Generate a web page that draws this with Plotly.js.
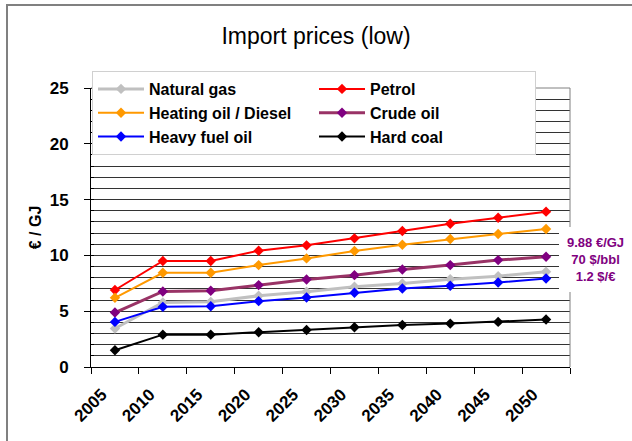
<!DOCTYPE html>
<html>
<head>
<meta charset="utf-8">
<script src="https://cdn.plot.ly/plotly-3.0.1.min.js"></script>
<style>
  html, body { margin: 0; padding: 0; background: #ffffff; }
  #wrap { position: relative; width: 632px; height: 441px; overflow: hidden; }
  #frame { position: absolute; left: 6px; top: 4px; width: 700px; height: 500px;
           border-left: 2px solid #808080; border-top: 2px solid #808080; box-sizing: border-box; }
  #chart { position: absolute; left: 0; top: 0; width: 632px; height: 441px; }
</style>
</head>
<body>
<div id="wrap">
  <div id="frame"></div>
  <div id="chart"></div>
</div>
<script>
// ---- data ----
const years = ["2005", "2010", "2015", "2020", "2025", "2030", "2035", "2040", "2045", "2050"];
const naturalGas   = [3.45, 5.78, 5.84, 6.38, 6.74, 7.19, 7.49, 7.87, 8.14, 8.53];
const petrol       = [6.9, 9.5, 9.5, 10.42, 10.9, 11.53, 12.19, 12.84, 13.38, 13.92];
const heatingOil   = [6.2, 8.44, 8.44, 9.13, 9.73, 10.39, 10.96, 11.47, 11.92, 12.37];
const crudeOil     = [4.88, 6.77, 6.83, 7.34, 7.84, 8.23, 8.74, 9.13, 9.58, 9.88];
const heavyFuelOil = [4.04, 5.39, 5.45, 5.9, 6.23, 6.65, 7.04, 7.28, 7.57, 7.93];
const hardCoal     = [1.5, 2.9, 2.9, 3.11, 3.32, 3.56, 3.77, 3.89, 4.04, 4.25];
const seriesNames  = ["Natural gas", "Petrol", "Heating oil / Diesel", "Crude oil", "Heavy fuel oil", "Hard coal"];
const yTicks = [0, 5, 10, 15, 20, 25];
const noteLines = ["9.88 €/GJ", "70 $/bbl", "1.2 $/€"];
const titleText = "Import prices (low)";
const yTitleText = "€ / GJ";

const FONT = "Arial, 'Liberation Sans', sans-serif";

function tr(name, y, lineColor, markerColor, width) {
  return {
    type: "scatter", mode: "lines+markers", name: name, x: years, y: y,
    line: { color: lineColor, width: width },
    marker: { symbol: "diamond", size: 8, color: markerColor, line: { width: 0 } },
    hoverinfo: "skip"
  };
}

const data = [
  tr(seriesNames[0], naturalGas, "#C0C0C0", "#C0C0C0", 3),
  tr(seriesNames[1], petrol, "#FF0000", "#FF0000", 2),
  tr(seriesNames[2], heatingOil, "#FF9900", "#FF9900", 2),
  tr(seriesNames[3], crudeOil, "#993366", "#800080", 3),
  tr(seriesNames[4], heavyFuelOil, "#0000FF", "#0000FF", 2),
  tr(seriesNames[5], hardCoal, "#000000", "#000000", 2)
];

const L = 91, R = 62, T = 88, B = 74;
const W = 632, H = 441;
const pw = W - L - R, ph = H - T - B;
const px2x = (p) => (p - L) / pw;
const py2y = (p) => (H - B - p) / ph;

const layout = {
  width: W, height: H,
  margin: { l: L, r: R, t: T, b: B, pad: 0 },
  paper_bgcolor: "rgba(0,0,0,0)",
  plot_bgcolor: "#ffffff",
  font: { family: FONT, color: "#000000", size: 16 },
  title: {
    text: titleText, font: { family: FONT, size: 23, color: "#000000" },
    xref: "container", x: 0.5, xanchor: "center",
    yref: "container", y: 1 - 36 / H, yanchor: "middle"
  },
  showlegend: true,
  legend: {
    orientation: "h", x: px2x(92), xanchor: "left", y: py2y(71), yanchor: "top",
    entrywidth: 160, entrywidthmode: "pixels", itemwidth: 46,
    bgcolor: "#ffffff", bordercolor: "#D0D0D0", borderwidth: 1,
    font: { family: FONT, size: 16, color: "#000000", weight: "bold" },
    traceorder: "normal"
  },
  xaxis: {
    type: "category", range: [-0.5, 9.5], fixedrange: true,
    showline: true, linecolor: "#000000", linewidth: 1,
    showgrid: false, zeroline: false,
    ticks: "outside", tickson: "boundaries", ticklen: 6, tickcolor: "#000000", tickwidth: 1,
    tickangle: -45,
    tickfont: { family: FONT, size: 17, color: "#000000", weight: "bold" },
    ticklabelstandoff: 10, ticklabelshift: -13
  },
  yaxis: {
    range: [0, 25], fixedrange: true,
    tickvals: yTicks,
    showline: true, linecolor: "#000000", linewidth: 1,
    showgrid: true, gridcolor: "#333333", gridwidth: 1, zeroline: false,
    ticks: "outside", ticklen: 6, tickcolor: "#000000", tickwidth: 1,
    tickfont: { family: FONT, size: 17, color: "#000000", weight: "bold" },
    ticklabelstandoff: 12,
    minor: { dtick: 1, ticks: "inside", ticklen: 3, tickcolor: "#000000",
             showgrid: true, gridcolor: "#333333", gridwidth: 1 },
    title: { text: yTitleText, standoff: 4,
             font: { family: FONT, size: 16, color: "#000000", weight: "bold" } }
  },
  shapes: [
    { type: "line", xref: "paper", yref: "paper", x0: 0, x1: 1, y0: 1, y1: 1,
      line: { color: "#808080", width: 1 }, layer: "above" },
    { type: "line", xref: "paper", yref: "paper", x0: 1, x1: 1, y0: 0, y1: 1,
      line: { color: "#808080", width: 1 }, layer: "above" }
  ],
  annotations: [
    { xref: "paper", yref: "paper", x: px2x(595), y: py2y(259),
      xanchor: "center", yanchor: "middle", showarrow: false,
      text: noteLines.join("<br>"), align: "center",
      font: { family: FONT, size: 13, color: "#800080", weight: "bold" },
      bgcolor: "#ffffff", borderpad: 8, borderwidth: 0 }
  ]
};

Plotly.newPlot("chart", data, layout, { staticPlot: true, displayModeBar: false });
</script>
</body>
</html>
